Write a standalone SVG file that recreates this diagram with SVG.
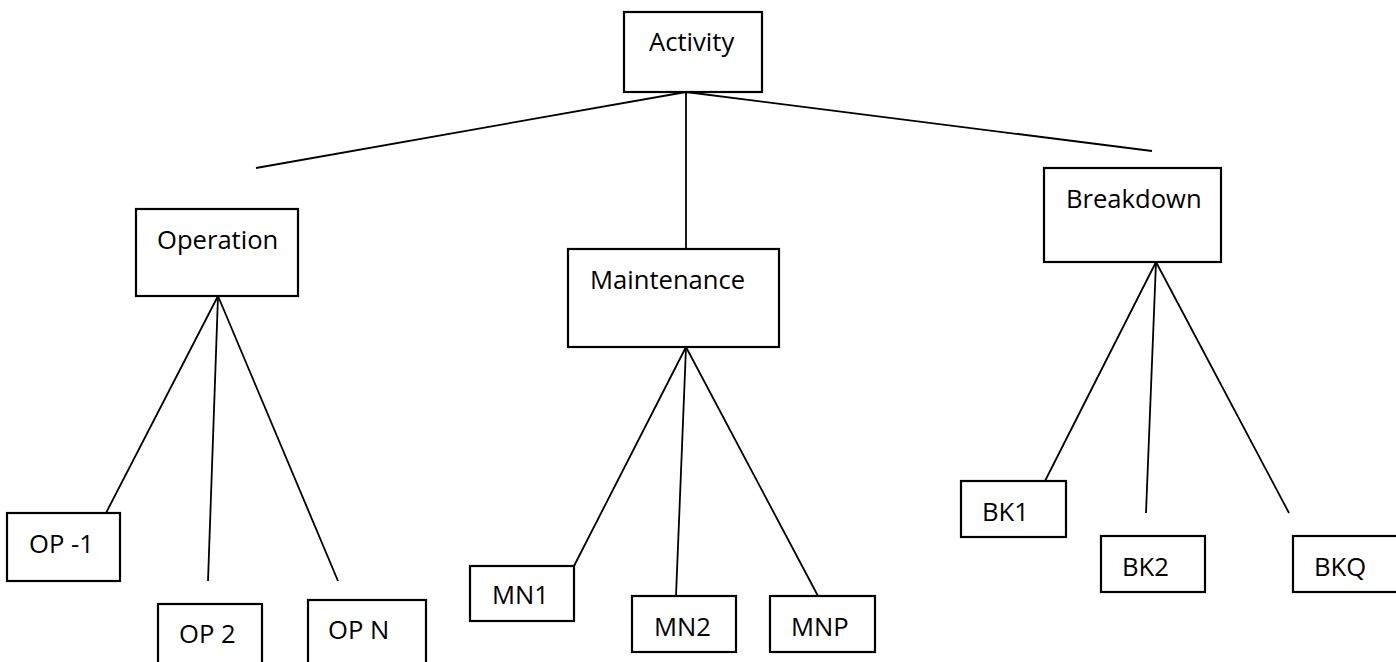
<svg xmlns="http://www.w3.org/2000/svg" width="1396" height="662" viewBox="0 0 1396 662">
<style>
.box{fill:#fff;stroke:#000;stroke-width:2.2}
.lbl{font-family:"Open Sans","Liberation Sans",sans-serif;font-size:25.6px;fill:#000}
.con line{stroke:#000;stroke-width:1.8}
</style>
<rect width="1396" height="662" fill="#fff"/>
<g id="connectors" class="con">
<line x1="686" y1="92" x2="256" y2="168"/>
<line x1="686" y1="92" x2="686" y2="249"/>
<line x1="686" y1="92" x2="1152" y2="151"/>
<line x1="218" y1="296" x2="106" y2="513"/>
<line x1="218" y1="296" x2="208" y2="581"/>
<line x1="218" y1="296" x2="338" y2="581"/>
<line x1="686" y1="347" x2="574" y2="566"/>
<line x1="686" y1="347" x2="676" y2="596"/>
<line x1="686" y1="347" x2="818" y2="596"/>
<line x1="1156" y1="262" x2="1045" y2="481"/>
<line x1="1156" y1="262" x2="1146" y2="513"/>
<line x1="1156" y1="262" x2="1289" y2="513"/>
</g>
<g id="activity"><rect class="box" x="624" y="12" width="138" height="80"/><text class="lbl" x="649" y="51">Activity</text></g>
<g id="operation"><rect class="box" x="136" y="209" width="162" height="87"/><text class="lbl" x="157" y="249">Operation</text></g>
<g id="maintenance"><rect class="box" x="568" y="249" width="211" height="98"/><text class="lbl" x="590" y="289">Maintenance</text></g>
<g id="breakdown"><rect class="box" x="1044" y="168" width="177" height="94"/><text class="lbl" x="1066" y="208">Breakdown</text></g>
<g id="op1"><rect class="box" x="7" y="513" width="113" height="68"/><text class="lbl" x="29" y="553">OP -1</text></g>
<g id="op2"><rect class="box" x="158" y="604" width="104" height="60"/><text class="lbl" x="179" y="643">OP 2</text></g>
<g id="opn"><rect class="box" x="308" y="600" width="118" height="70"/><text class="lbl" x="328" y="639">OP N</text></g>
<g id="mn1"><rect class="box" x="470" y="566" width="104" height="55"/><text class="lbl" x="492" y="604">MN1</text></g>
<g id="mn2"><rect class="box" x="632" y="596" width="104" height="56"/><text class="lbl" x="654" y="636">MN2</text></g>
<g id="mnp"><rect class="box" x="770" y="596" width="105" height="56"/><text class="lbl" x="791" y="636">MNP</text></g>
<g id="bk1"><rect class="box" x="961" y="481" width="105" height="56"/><text class="lbl" x="982" y="521">BK1</text></g>
<g id="bk2"><rect class="box" x="1101" y="536" width="104" height="56"/><text class="lbl" x="1122" y="576">BK2</text></g>
<g id="bkq"><rect class="box" x="1293" y="536" width="110" height="56"/><text class="lbl" x="1314" y="576">BKQ</text></g>
</svg>
